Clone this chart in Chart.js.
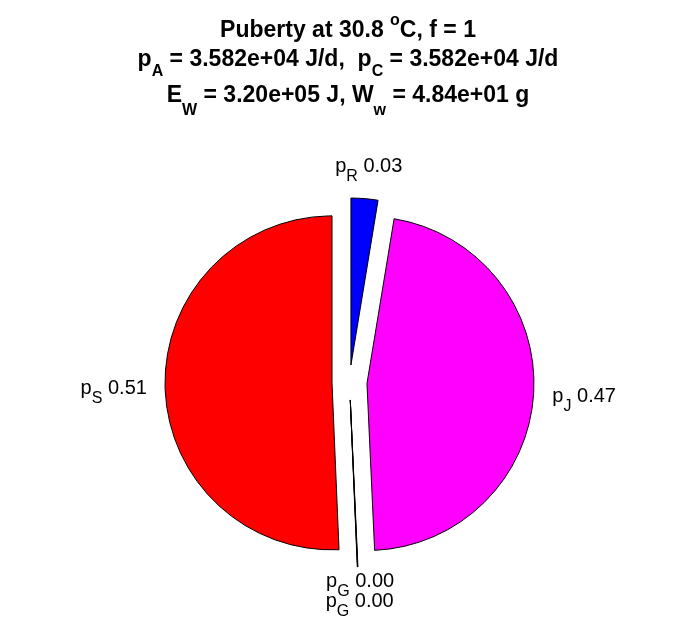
<!DOCTYPE html>
<html>
<head>
<meta charset="utf-8">
<script src="https://cdn.jsdelivr.net/npm/chart.js@4/dist/chart.umd.min.js"></script>
<style>
  html, body { margin: 0; padding: 0; background: #fff; }
  #wrap { width: 696px; height: 618px; }
</style>
</head>
<body>
<div id="wrap"><canvas id="pieChart"></canvas></div>
<script>
// Fractions of mobilised power, clockwise from the top
let fluxNames = ['R', 'J', 'G', 'G', 'S'];
let fluxValues = [0.026, 0.467, 0.0003, 0.0003, 0.507];
let fluxColors = ['#0000FF', '#FF00FF', '#FFFFFF', '#FFFFFF', '#FF0000'];

// Title lines, as [text, kind] pieces ('' normal, 'sub', 'sup')
let titleLine1 = [['Puberty at 30.8 ', ''], ['o', 'sup'], ['C, f = 1', '']];
let titleLine2 = [['p', ''], ['A', 'sub'], [' = 3.582e+04 J/d,  p', ''], ['C', 'sub'], [' = 3.582e+04 J/d', '']];
let titleLine3 = [['E', ''], ['W', 'sub'], [' = 3.20e+05 J, W', ''], ['w', 'sub'], [' = 4.84e+01 g', '']];

const EXPLODE = 17.5;

function richFont(kind, size, weight, ratio) {
    let s = kind ? Math.round(size * ratio) : size;
    return weight + ' ' + s + 'px "Liberation Sans", Arial, sans-serif';
}

function measureRich(ctx, pieces, size, weight, ratio) {
    let w = 0;
    pieces.forEach(p => {
        ctx.font = richFont(p[1], size, weight, ratio);
        w += ctx.measureText(p[0]).width;
    });
    return w;
}

function drawRich(ctx, pieces, x, baseline, size, weight, ratio, subDrop, supRise) {
    ctx.save();
    ctx.fillStyle = '#000';
    ctx.textAlign = 'left';
    ctx.textBaseline = 'alphabetic';
    pieces.forEach(p => {
        ctx.font = richFont(p[1], size, weight, ratio);
        let y = baseline;
        if (p[1] === 'sub') y += subDrop;
        if (p[1] === 'sup') y -= supRise;
        ctx.fillText(p[0], x, y);
        x += ctx.measureText(p[0]).width;
    });
    ctx.restore();
}

// Move every slice outwards along its middle angle
const explodePlugin = {
    id: 'explode',
    afterDatasetsUpdate(chart) {
        chart.getDatasetMeta(0).data.forEach(arc => {
            let mid = (arc.startAngle + arc.endAngle) / 2;
            arc.x += Math.cos(mid) * EXPLODE;
            arc.y += Math.sin(mid) * EXPLODE;
        });
    }
};

// Labels p_X 0.00 outside the slices
const labelPlugin = {
    id: 'pieLabels',
    afterDatasetsDraw(chart) {
        let ctx = chart.ctx;
        let boxes = [];
        chart.getDatasetMeta(0).data.forEach((arc, i) => {
            let mid = (arc.startAngle + arc.endAngle) / 2;
            let dist = arc.outerRadius * 1.2;
            let pieces = [['p', ''], [fluxNames[i], 'sub'], [' ' + fluxValues[i].toFixed(2), '']];
            let w = measureRich(ctx, pieces, 20, 'normal', 0.8);
            let cx = arc.x + Math.cos(mid) * dist + 0.27 * w * Math.cos(mid);
            let cy = arc.y + Math.sin(mid) * dist;
            let box = { pieces: pieces, x: cx - w / 2, w: w, y: cy };
            boxes.forEach(b => {
                if (Math.abs(b.y - box.y) < 20 && b.x < box.x + w && box.x < b.x + b.w) b.y -= 20;
            });
            boxes.push(box);
        });
        boxes.forEach(b => drawRich(ctx, b.pieces, b.x, b.y + 7, 20, 'normal', 0.8, 9, 0));
    }
};

const titlePlugin = {
    id: 'richTitle',
    afterDraw(chart) {
        let ctx = chart.ctx;
        let cx = chart.width / 2;
        [[titleLine1, 37, 10], [titleLine2, 66, 10], [titleLine3, 102, 13]].forEach(([line, base, drop]) => {
            let w = measureRich(ctx, line, 23, 'bold', 0.7);
            drawRich(ctx, line, cx - w / 2, base, 23, 'bold', 0.7, drop, 12);
        });
    }
};

let pieChart = new Chart(document.getElementById('pieChart').getContext('2d'), {
    type: 'pie',
    data: {
        labels: fluxNames,
        datasets: [{
            data: fluxValues,
            backgroundColor: fluxColors,
            borderColor: '#000000',
            borderWidth: 1,
            radius: 167
        }]
    },
    options: {
        responsive: true,
        maintainAspectRatio: false,
        animation: false,
        layout: { padding: { left: 3, right: 0, top: 150, bottom: 3 } },
        plugins: {
            legend: { display: false },
            title: { display: false },
            tooltip: { enabled: false }
        }
    },
    plugins: [explodePlugin, labelPlugin, titlePlugin]
});
</script>
</body>
</html>
